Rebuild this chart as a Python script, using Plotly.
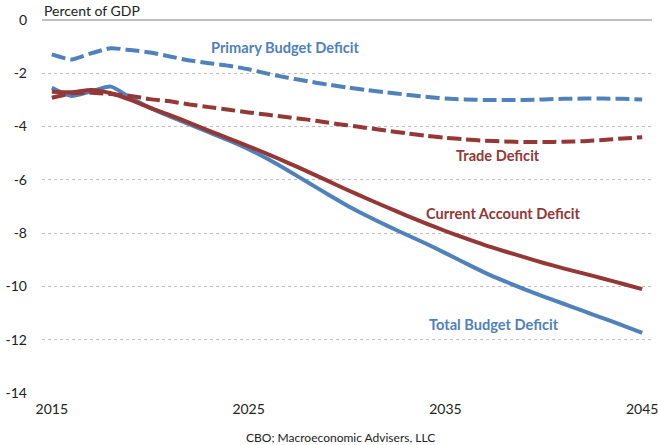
import plotly.graph_objects as go

years = list(range(2015, 2046))

primary_budget = [-1.29, -1.48, -1.25, -1.06, -1.13, -1.22, -1.37, -1.52, -1.62, -1.72,
                  -1.85, -2.02, -2.17, -2.30, -2.42, -2.53, -2.63, -2.72, -2.80, -2.88,
                  -2.95, -2.98, -3.00, -3.00, -3.00, -2.98, -2.96, -2.95, -2.95, -2.96, -2.98]

trade = [-2.92, -2.75, -2.73, -2.78, -2.85, -2.97, -3.05, -3.17, -3.27, -3.37,
         -3.47, -3.56, -3.65, -3.74, -3.85, -3.95, -4.05, -4.15, -4.25, -4.34,
         -4.42, -4.48, -4.53, -4.56, -4.58, -4.58, -4.57, -4.55, -4.50, -4.45, -4.40]

current_account = [-2.69, -2.71, -2.63, -2.75, -3.00, -3.30, -3.57, -3.86, -4.16, -4.45,
                   -4.74, -5.04, -5.36, -5.69, -6.03, -6.37, -6.70, -7.02, -7.33, -7.63,
                   -7.92, -8.19, -8.45, -8.68, -8.90, -9.12, -9.32, -9.51, -9.70, -9.90, -10.10]

total_budget = [-2.54, -2.85, -2.68, -2.50, -2.92, -3.30, -3.62, -3.92, -4.22, -4.52,
                -4.85, -5.23, -5.65, -6.09, -6.53, -6.96, -7.35, -7.71, -8.05, -8.39,
                -8.75, -9.12, -9.48, -9.80, -10.10, -10.38, -10.65, -10.92, -11.19, -11.46, -11.74]

x_ticks = [2015, 2025, 2035, 2045]
y_ticks = [0, -2, -4, -6, -8, -10, -12, -14]

BLUE = "#4F81BD"
RED = "#953735"
FONT = "Lato"

fig = go.Figure()

fig.add_trace(go.Scatter(x=years, y=total_budget, mode="lines", name="Total Budget Deficit",
                         line=dict(color=BLUE, width=4, shape="spline", smoothing=0.6)))
fig.add_trace(go.Scatter(x=years, y=current_account, mode="lines", name="Current Account Deficit",
                         line=dict(color=RED, width=4, shape="spline", smoothing=0.6)))
fig.add_trace(go.Scatter(x=years, y=primary_budget, mode="lines", name="Primary Budget Deficit",
                         line=dict(color=BLUE, width=4, dash="14px,5px", shape="spline", smoothing=0.6)))
fig.add_trace(go.Scatter(x=years, y=trade, mode="lines", name="Trade Deficit",
                         line=dict(color=RED, width=4, dash="14px,5px", shape="spline", smoothing=0.6)))

labels = [
    ("Primary Budget Deficit", 2026.85, -1.05, BLUE),
    ("Trade Deficit", 2037.67, -5.1, RED),
    ("Current Account Deficit", 2037.95, -7.25, RED),
    ("Total Budget Deficit", 2037.47, -11.41, BLUE),
]
for txt, lx, ly, col in labels:
    fig.add_annotation(x=lx, y=ly, xref="x", yref="y", text=f"<b>{txt}</b>", showarrow=False,
                       font=dict(family=FONT, size=14.6, color=col), xanchor="center", yanchor="middle")

fig.add_annotation(x=0, y=1, xref="paper", yref="paper", text="Percent of GDP", showarrow=False,
                   xanchor="left", yanchor="bottom", yshift=-1,
                   font=dict(family=FONT, size=14, color="#222222"))
fig.add_annotation(x=0.49, y=-0.118, xref="paper", yref="paper", text="CBO; Macroeconomic Advisers, LLC",
                   showarrow=False, xanchor="center", yanchor="middle",
                   font=dict(family=FONT, size=12, color="#222222"))

fig.update_layout(
    width=658, height=445,
    margin=dict(l=42, r=6, t=20, b=52),
    paper_bgcolor="white", plot_bgcolor="white",
    showlegend=False,
    font=dict(family=FONT, size=14, color="#222222"),
    xaxis=dict(range=[2014.5, 2045.5], tickvals=x_ticks, ticktext=[str(v) for v in x_ticks],
               showgrid=False, zeroline=False, showline=False, ticks="", ticklabelstandoff=6,
               automargin=False, ticklabeloverflow="allow",
               tickfont=dict(family=FONT, size=14, color="#222222")),
    yaxis=dict(range=[-14, 0], tickvals=y_ticks, ticktext=[str(v) for v in y_ticks],
               showgrid=True, gridcolor="#BFBFBF", griddash="dot", gridwidth=1,
               zeroline=True, zerolinecolor="#BFBFBF", zerolinewidth=2,
               showline=False, ticks="", ticklabelstandoff=14, automargin=False,
               ticklabeloverflow="allow",
               tickfont=dict(family=FONT, size=14, color="#222222")),
)

fig.write_html("out.html", config={"displayModeBar": False},
               post_script="document.body.style.margin='0';document.body.style.padding='0';")
